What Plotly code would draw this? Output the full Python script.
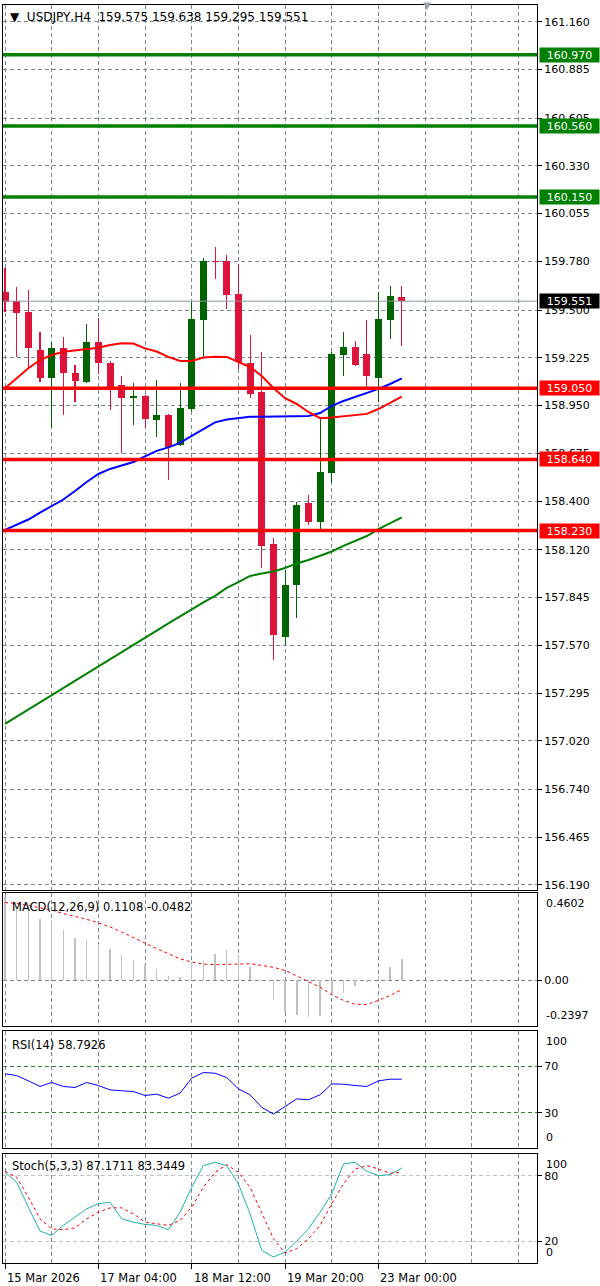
import plotly.graph_objects as go
from plotly.subplots import make_subplots

# ---------------- data ----------------
bar_index = list(range(35))
opens = [159.606, 159.554, 159.490, 159.270, 159.107, 159.280, 159.139, 159.088, 159.314, 159.197,
         159.068, 158.992, 159.005, 158.865, 158.896, 158.723, 158.930, 159.443, 159.785, 159.782,
         159.591, 159.197, 159.030, 158.151, 157.620, 157.917, 158.388, 158.278, 158.560, 159.241,
         159.289, 159.247, 159.107, 159.443, 159.575]
highs = [159.742, 159.634, 159.615, 159.372, 159.314, 159.347, 159.184, 159.418, 159.456, 159.207,
         159.122, 159.082, 159.010, 159.097, 158.900, 159.082, 159.548, 159.798, 159.865, 159.817,
         159.763, 159.356, 159.257, 158.186, 158.004, 158.397, 158.435, 158.886, 159.257, 159.375,
         159.322, 159.443, 159.606, 159.640, 159.638]
lows = [159.490, 159.231, 159.165, 159.084, 158.823, 158.896, 158.972, 159.078, 159.130, 158.924,
        158.675, 158.838, 158.823, 158.771, 158.522, 158.720, 158.919, 159.222, 159.679, 159.506,
        159.159, 158.995, 158.017, 157.485, 157.572, 157.729, 158.263, 158.234, 158.503, 159.122,
        159.180, 159.053, 158.972, 159.333, 159.295]
closes = [159.548, 159.485, 159.280, 159.111, 159.280, 159.136, 159.092, 159.314, 159.193, 159.059,
          158.992, 159.005, 158.873, 158.896, 158.713, 158.938, 159.449, 159.782, 159.778, 159.587,
          159.203, 159.015, 158.143, 157.629, 157.917, 158.377, 158.278, 158.566, 159.247, 159.289,
          159.184, 159.122, 159.449, 159.581, 159.551]

ma_red = [159.050, 159.109, 159.165, 159.212, 159.241, 159.260, 159.268, 159.273, 159.283, 159.299,
          159.309, 159.307, 159.279, 159.261, 159.230, 159.207, 159.207, 159.227, 159.231, 159.230,
          159.201, 159.172, 159.120, 159.051, 158.992, 158.959, 158.913, 158.877, 158.881, 158.887,
          158.893, 158.902, 158.930, 158.965, 159.002]
ma_blue = [158.234, 158.263, 158.294, 158.334, 158.372, 158.409, 158.458, 158.510, 158.556, 158.585,
           158.605, 158.625, 158.657, 158.689, 158.709, 158.735, 158.775, 158.815, 158.853, 158.870,
           158.879, 158.886, 158.886, 158.886, 158.886, 158.887, 158.890, 158.907, 158.948, 158.976,
           158.999, 159.021, 159.046, 159.074, 159.106]
ma_green = [157.117, 157.158, 157.200, 157.241, 157.282, 157.324, 157.365, 157.406, 157.448, 157.489,
            157.530, 157.572, 157.613, 157.654, 157.696, 157.737, 157.778, 157.817, 157.854, 157.900,
            157.934, 157.969, 157.983, 157.995, 158.015, 158.041, 158.061, 158.084, 158.110, 158.142,
            158.170, 158.199, 158.239, 158.271, 158.306]

macd_hist = [0.440, 0.369, 0.366, 0.325, 0.320, 0.264, 0.224, 0.215, 0.194, 0.164,
             0.132, 0.109, 0.083, 0.058, 0.023, 0.016, 0.097, 0.100, 0.141, 0.158,
             0.132, 0.071, -0.002, -0.105, -0.167, -0.181, -0.193, -0.188, -0.079, -0.065,
             -0.030, -0.008, 0.023, 0.071, 0.1108]
macd_signal = [0.410, 0.405, 0.395, 0.383, 0.370, 0.352, 0.338, 0.322, 0.303, 0.282,
               0.255, 0.225, 0.194, 0.167, 0.141, 0.114, 0.097, 0.086, 0.083, 0.084,
               0.086, 0.088, 0.079, 0.069, 0.053, 0.023, -0.008, -0.035, -0.075, -0.105,
               -0.125, -0.127, -0.105, -0.079, -0.0482]
macd_max, macd_min = 0.4602, -0.2397

rsi = [63.4, 61.9, 57.4, 52.6, 56.0, 52.6, 51.7, 56.0, 53.4, 49.7,
       48.9, 48.3, 44.9, 46.0, 42.6, 46.9, 59.7, 64.5, 63.9, 60.2,
       50.6, 45.5, 34.7, 29.0, 35.5, 42.0, 41.2, 45.5, 54.8, 54.5,
       53.4, 52.6, 57.4, 58.8, 58.7926]
stoch_k = [83.2, 74.1, 51.2, 29.3, 25.3, 34.5, 42.1, 49.7, 54.3, 55.8,
           40.5, 37.5, 35.4, 34.5, 30.5, 46.6, 69.5, 89.3, 92.4, 89.3,
           72.6, 45.1, 11.6, 5.5, 10.1, 20.1, 31.4, 46.6, 63.4, 90.9,
           92.4, 84.1, 80.2, 81.1, 87.1711]
stoch_d = [84.1, 78.7, 60.4, 40.5, 31.4, 30.5, 32.3, 40.5, 46.6, 50.6,
           50.6, 45.1, 37.5, 36.0, 34.5, 39.0, 51.2, 69.5, 83.2, 90.2,
           83.2, 69.5, 45.1, 22.3, 9.1, 13.1, 22.3, 34.5, 54.3, 72.6,
           86.3, 89.3, 86.3, 82.3, 83.3449]

resistance_levels = [160.970, 160.560, 160.150]
support_levels = [159.050, 158.640, 158.230]
bid_price = 159.551

price_ticks = [161.160, 160.885, 160.605, 160.330, 160.055, 159.780, 159.500, 159.225, 158.950,
               158.675, 158.400, 158.120, 157.845, 157.570, 157.295, 157.020, 156.740, 156.465, 156.190]
xlabel_idx = [0, 8, 16, 24, 32]
xlabel_text = ["15 Mar 2026", "17 Mar 04:00", "18 Mar 12:00", "19 Mar 20:00", "23 Mar 00:00"]
grid_minor_idx = [4, 12, 20, 28, 36, 40, 44]

header = "USDJPY,H4  159.575 159.638 159.295 159.551"
macd_title = "MACD(12,26,9) 0.1108 -0.0482"
rsi_title = "RSI(14) 58.7926"
stoch_title = "Stoch(5,3,3) 87.1711 83.3449"

# ---------------- style ----------------
BULL = "#006400"
BEAR = "#dc143c"
GRID = "#7b8794"
FONT = "DejaVu Sans"
W, H = 600, 1286
ML, MR, MT, MB = 3, 63, 5, 23
PW, PH = W - ML - MR, H - MT - MB


def px_x(p):
    return (p - ML) / PW


def px_y(p):
    return (H - MB - p) / PH


fig = make_subplots(rows=4, cols=1, shared_xaxes=True, vertical_spacing=0.0)

cols = [BULL if c >= o else BEAR for o, c in zip(opens, closes)]
fig.add_trace(go.Bar(x=bar_index, y=[h - l for h, l in zip(highs, lows)], base=lows,
                     width=0.09, marker=dict(color=cols, line=dict(width=0)),
                     showlegend=False, hoverinfo="skip"), row=1, col=1)
fig.add_trace(go.Bar(x=bar_index, y=[max(abs(c - o), 0.006) for o, c in zip(opens, closes)],
                     base=[min(o, c) for o, c in zip(opens, closes)],
                     width=0.6, marker=dict(color=cols, line=dict(width=0)),
                     showlegend=False, hoverinfo="skip"), row=1, col=1)

for lvl in resistance_levels:
    fig.add_hline(y=lvl, line=dict(color="#008000", width=3.5), row=1, col=1)
for lvl in support_levels:
    fig.add_hline(y=lvl, line=dict(color="#ff0000", width=3.5), row=1, col=1)
fig.add_hline(y=bid_price, line=dict(color="#8796a5", width=1), row=1, col=1)

fig.add_trace(go.Scatter(x=bar_index, y=ma_green, mode="lines", line=dict(color="#008000", width=2),
                         showlegend=False, hoverinfo="skip"), row=1, col=1)
fig.add_trace(go.Scatter(x=bar_index, y=ma_blue, mode="lines", line=dict(color="#0000ff", width=2),
                         showlegend=False, hoverinfo="skip"), row=1, col=1)
fig.add_trace(go.Scatter(x=bar_index, y=ma_red, mode="lines", line=dict(color="#ff0000", width=2),
                         showlegend=False, hoverinfo="skip"), row=1, col=1)

# MACD
fig.add_trace(go.Bar(x=bar_index, y=macd_hist, width=0.13, marker=dict(color="#c0c0c0", line=dict(width=0)),
                     showlegend=False, hoverinfo="skip"), row=2, col=1)
fig.add_trace(go.Scatter(x=bar_index, y=macd_signal, mode="lines",
                         line=dict(color="#ff0000", width=1, dash="3px,3px"),
                         showlegend=False, hoverinfo="skip"), row=2, col=1)
# RSI
fig.add_trace(go.Scatter(x=bar_index, y=rsi, mode="lines", line=dict(color="#0000ff", width=1),
                         showlegend=False, hoverinfo="skip"), row=3, col=1)
# Stoch
fig.add_trace(go.Scatter(x=bar_index, y=stoch_k, mode="lines", line=dict(color="#20b2aa", width=1),
                         showlegend=False, hoverinfo="skip"), row=4, col=1)
fig.add_trace(go.Scatter(x=bar_index, y=stoch_d, mode="lines",
                         line=dict(color="#ff0000", width=1, dash="3px,3px"),
                         showlegend=False, hoverinfo="skip"), row=4, col=1)

x_lo = -2 / 11.67
x_hi = x_lo + PW / 11.67

fig.update_xaxes(range=[x_lo, x_hi], showline=True, mirror=True, linecolor="black", linewidth=1,
                 tickvals=xlabel_idx, ticktext=[""] * len(xlabel_idx), showticklabels=False,
                 showgrid=True, gridcolor=GRID, griddash="4px,3px", gridwidth=1,
                 minor=dict(tickvals=grid_minor_idx, showgrid=True, gridcolor=GRID,
                            griddash="4px,3px", gridwidth=1, ticks=""),
                 ticks="", zeroline=False, fixedrange=True)
fig.update_xaxes(ticks="outside", ticklen=5, tickcolor="black", row=4, col=1)

axis_common = dict(side="right", showline=True, mirror=True, linecolor="black", linewidth=1,
                   ticks="outside", ticklen=4, tickcolor="black", zeroline=False,
                   tickfont=dict(family=FONT, size=11, color="black"), fixedrange=True)

fig.update_yaxes(**axis_common)
fig.update_yaxes(range=[156.161, 161.256], tickvals=price_ticks,
                 ticktext=[f"{v:.3f}" for v in price_ticks], showgrid=True, gridcolor=GRID,
                 griddash="4px,3px", row=1, col=1)
fig.update_yaxes(range=[macd_min, macd_max], tickvals=[0], ticktext=["0.00"], showgrid=True,
                 gridcolor=GRID, griddash="4px,3px", row=2, col=1)
fig.update_yaxes(range=[0, 100], tickvals=[70, 30], ticktext=["70", "30"], showgrid=True,
                 gridcolor="#2e8b2e", griddash="4px,3px", row=3, col=1)
fig.update_yaxes(range=[0, 100], tickvals=[80, 20], ticktext=["80", "20"], showgrid=True,
                 gridcolor="#c0c0c0", griddash="4px,3px", row=4, col=1)

fig.layout.yaxis.domain = [px_y(890), 1.0]
fig.layout.yaxis2.domain = [px_y(1026), px_y(893)]
fig.layout.yaxis3.domain = [px_y(1148), px_y(1031)]
fig.layout.yaxis4.domain = [0.0, px_y(1154)]

ann = []
# header
ann.append(dict(xref="paper", yref="paper", x=px_x(8), y=px_y(17), xanchor="left", yanchor="middle",
                text="\u25BC  " + header, showarrow=False,
                font=dict(family=FONT, size=12, color="black")))
ann.append(dict(xref="paper", yref="paper", x=px_x(427), y=px_y(6), xanchor="center", yanchor="middle",
                text="\u25BC", showarrow=False, font=dict(family=FONT, size=10, color="#9aa4ae")))
for txt, py in [(macd_title, 907), (rsi_title, 1045), (stoch_title, 1166)]:
    ann.append(dict(xref="paper", yref="paper", x=px_x(10), y=px_y(py), xanchor="left",
                    yanchor="middle", text=txt, showarrow=False,
                    font=dict(family=FONT, size=11.5, color="black")))

# price level boxes
for lvl in resistance_levels:
    ann.append(dict(xref="paper", yref="y", x=1, y=lvl, xanchor="left", yanchor="middle", xshift=2,
                    text=f"{lvl:.3f}", showarrow=False, bgcolor="#008000", width=57, height=12,
                    borderpad=1, font=dict(family=FONT, size=11, color="white")))
for lvl in support_levels:
    ann.append(dict(xref="paper", yref="y", x=1, y=lvl, xanchor="left", yanchor="middle", xshift=2,
                    text=f"{lvl:.3f}", showarrow=False, bgcolor="#ff0000", width=57, height=12,
                    borderpad=1, font=dict(family=FONT, size=11, color="white")))
ann.append(dict(xref="paper", yref="y", x=1, y=bid_price, xanchor="left", yanchor="middle", xshift=2,
                text=f"{bid_price:.3f}", showarrow=False, bgcolor="black", width=57, height=12,
                borderpad=1, font=dict(family=FONT, size=11, color="white")))

# sub-window edge labels
edge = [("y2", macd_max, f"{macd_max:.4f}", "top"), ("y2", macd_min, f"{macd_min:.4f}", "bottom"),
        ("y3", 100, "100", "top"), ("y3", 0, "0", "bottom"),
        ("y4", 100, "100", "top"), ("y4", 0, "0", "bottom")]
for yr, v, t, anc in edge:
    ann.append(dict(xref="paper", yref=yr, x=1, y=v, xanchor="left", yanchor=anc, xshift=7,
                    yshift=-2 if anc == "top" else 2, text=t, showarrow=False,
                    font=dict(family=FONT, size=11, color="black")))

# x-axis labels
for i, t in zip(xlabel_idx, xlabel_text):
    ann.append(dict(xref="x4", yref="paper", x=i, y=px_y(1278), xanchor="left", yanchor="middle",
                    xshift=0, text=t, showarrow=False, font=dict(family=FONT, size=11.5, color="black")))

fig.update_layout(width=W, height=H, margin=dict(l=ML, r=MR, t=MT, b=MB),
                  paper_bgcolor="white", plot_bgcolor="white", barmode="overlay",
                  bargap=0, showlegend=False, annotations=ann,
                  font=dict(family=FONT, size=11, color="black"))

fig.write_html("out.html", config={"displayModeBar": False, "staticPlot": True},
               post_script="document.body.style.margin='0';document.body.style.overflow='hidden';")
